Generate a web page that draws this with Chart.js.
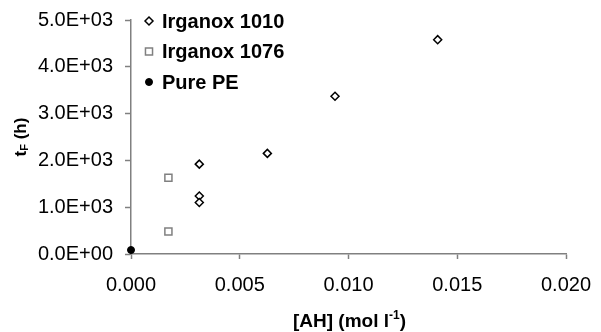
<!DOCTYPE html>
<html>
<head>
<meta charset="utf-8">
<script src="https://cdn.jsdelivr.net/npm/chart.js@4"></script>
<style>
  html, body { margin: 0; padding: 0; background: #fff; }
  #wrap { width: 601px; height: 332px; }
</style>
</head>
<body>
<div id="wrap"><canvas id="chart" width="601" height="332"></canvas></div>
<script>
// values
const irganox1010X = [0.00314, 0.00314, 0.00314, 0.00627, 0.00938, 0.0141];
const irganox1010Y = [1920, 1240, 1100, 2150, 3370, 4580];
const irganox1076X = [0.00172, 0.00172];
const irganox1076Y = [1630, 480];
const purePEX = [0];
const purePEY = [85];

const seriesLabels = ['Irganox 1010', 'Irganox 1076', 'Pure PE'];
const xTicks = [0, 0.005, 0.01, 0.015, 0.02];
const yTicks = [0, 1000, 2000, 3000, 4000, 5000];

const FONT = '"Liberation Sans", Arial, sans-serif';
const AXIS_GREY = '#808080';

function toPoints(xs, ys) {
    return xs.map((x, i) => ({ x: x, y: ys[i] }));
}

// "5.0E+03" style labels
function sciLabel(v) {
    const parts = v.toExponential(1).split('e');
    const exp = parseInt(parts[1], 10);
    const sign = exp < 0 ? '-' : '+';
    return parts[0] + 'E' + sign + String(Math.abs(exp)).padStart(2, '0');
}

// legend + axis titles (need sub/superscripts, so drawn by hand)
const extras = {
    id: 'extras',
    afterDraw(chart) {
        const ctx = chart.ctx;
        const area = chart.chartArea;
        ctx.save();
        ctx.fillStyle = '#000';

        // legend inside the plot, top-left
        ctx.font = 'bold 20px ' + FONT;
        ctx.textBaseline = 'middle';
        ctx.textAlign = 'left';
        chart.data.datasets.forEach((ds, i) => {
            const y = area.top + 1 + i * 30.5;
            const x = area.left + 18;
            ctx.save();
            ctx.strokeStyle = ds.borderColor;
            ctx.fillStyle = ds.backgroundColor;
            ctx.lineWidth = ds.borderWidth;
            Chart.helpers.drawPoint(ctx, { pointStyle: ds.pointStyle, radius: ds.pointRadius, borderWidth: ds.borderWidth }, x, y);
            ctx.restore();
            ctx.fillText(ds.label, x + 13, y + 1);
        });

        // x title: [AH] (mol l^-1)
        const xa = chart.scales.x;
        const xc = (xa.left + xa.right) / 2 + 1;
        ctx.textBaseline = 'alphabetic';
        ctx.font = 'bold 19px ' + FONT;
        const a = '[AH] (mol l';
        const sup = '-1';
        const b = ')';
        const wa = ctx.measureText(a).width;
        const wb = ctx.measureText(b).width;
        ctx.font = 'bold 12px ' + FONT;
        const ws = ctx.measureText(sup).width;
        const x0 = xc - (wa + ws + wb) / 2;
        const base = 327;
        ctx.font = 'bold 19px ' + FONT;
        ctx.fillText(a, x0, base);
        ctx.font = 'bold 12px ' + FONT;
        ctx.fillText(sup, x0 + wa, base - 8);
        ctx.font = 'bold 19px ' + FONT;
        ctx.fillText(b, x0 + wa + ws, base);

        // y title: t_F (h)
        const ya = chart.scales.y;
        const yc = (ya.top + ya.bottom) / 2;
        ctx.translate(20, yc);
        ctx.rotate(-Math.PI / 2);
        ctx.font = 'bold 17px ' + FONT;
        const t1 = 't';
        const t2 = ' (h)';
        const w1 = ctx.measureText(t1).width;
        const w2 = ctx.measureText(t2).width;
        ctx.font = 'bold 11px ' + FONT;
        const wsub = ctx.measureText('F').width;
        const s0 = -(w1 + wsub + w2) / 2;
        ctx.font = 'bold 17px ' + FONT;
        ctx.fillText(t1, s0, 6);
        ctx.font = 'bold 11px ' + FONT;
        ctx.fillText('F', s0 + w1, 8);
        ctx.font = 'bold 17px ' + FONT;
        ctx.fillText(t2, s0 + w1 + wsub, 6);
        ctx.restore();
    }
};

const chartConfig = {
    type: 'scatter',
    data: {
        datasets: [
            {
                label: seriesLabels[0],
                data: toPoints(irganox1010X, irganox1010Y),
                pointStyle: 'rectRot',
                pointRadius: 4,
                borderWidth: 1.5,
                borderColor: '#000',
                backgroundColor: '#fff',
                clip: false
            },
            {
                label: seriesLabels[1],
                data: toPoints(irganox1076X, irganox1076Y),
                pointStyle: 'rect',
                pointRadius: 5,
                borderWidth: 1.5,
                borderColor: AXIS_GREY,
                backgroundColor: '#fff',
                clip: false
            },
            {
                label: seriesLabels[2],
                data: toPoints(purePEX, purePEY),
                pointStyle: 'circle',
                pointRadius: 3.5,
                borderWidth: 1,
                borderColor: '#000',
                backgroundColor: '#000',
                clip: false
            }
        ]
    },
    options: {
        responsive: false,
        animation: false,
        layout: { padding: { top: 20, right: 35, left: 0, bottom: 0 } },
        plugins: {
            legend: { display: false },
            tooltip: { enabled: false }
        },
        scales: {
            x: {
                type: 'linear',
                min: 0,
                max: 0.02,
                afterBuildTicks: (scale) => { scale.ticks = xTicks.map(v => ({ value: v })); },
                afterFit: (scale) => {
                    scale.height = 78;
                    scale.paddingLeft = 0;
                    scale.paddingRight = 0;
                },
                border: { display: true, color: AXIS_GREY, width: 1.5 },
                grid: { drawOnChartArea: false, drawTicks: true, tickLength: 5, color: AXIS_GREY, tickWidth: 1.5 },
                ticks: {
                    color: '#000',
                    padding: 14,
                    maxRotation: 0,
                    font: { family: FONT, size: 20 },
                    callback: (v) => Number(v).toFixed(3)
                }
            },
            y: {
                type: 'linear',
                min: 0,
                max: 5000,
                afterBuildTicks: (scale) => { scale.ticks = yTicks.map(v => ({ value: v })); },
                afterFit: (scale) => {
                    scale.width = 131;
                    scale.paddingTop = 0;
                    scale.paddingBottom = 0;
                },
                border: { display: true, color: AXIS_GREY, width: 1.5 },
                grid: { drawOnChartArea: false, drawTicks: true, tickLength: 6, color: AXIS_GREY, tickWidth: 1.5 },
                ticks: {
                    color: '#000',
                    padding: 12,
                    font: { family: FONT, size: 20 },
                    callback: (v) => sciLabel(v)
                }
            }
        }
    },
    plugins: [extras]
};

const ctx = document.getElementById('chart').getContext('2d');
new Chart(ctx, chartConfig);
</script>
</body>
</html>
